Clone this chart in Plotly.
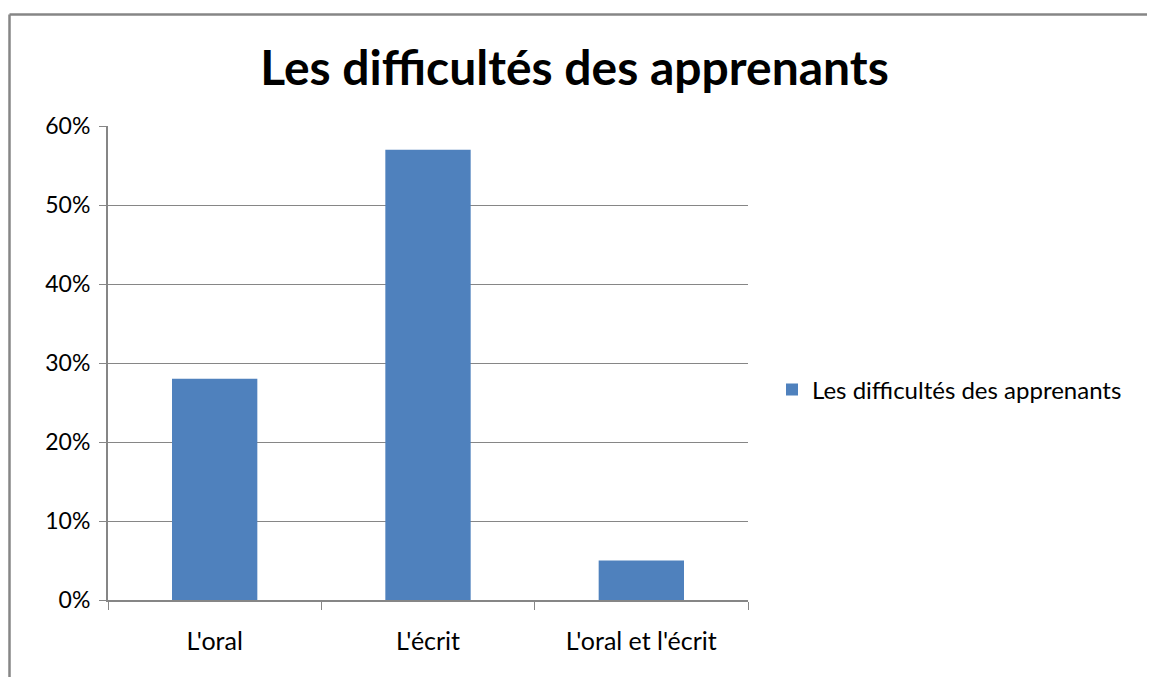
import plotly.graph_objects as go

categories = ["L'oral", "L'écrit", "L'oral et l'écrit"]
values = [0.28, 0.57, 0.05]
series_name = "Les difficultés des apprenants"
title_text = "Les difficultés des apprenants"
y_ticks = [0, 0.1, 0.2, 0.3, 0.4, 0.5, 0.6]
y_tick_labels = ["0%", "10%", "20%", "30%", "40%", "50%", "60%"]

W, H = 1149, 677
L, R, T, B = 108, 748, 126, 600

def px_x(p):
    return (p - L) / (R - L)

def px_y(p):
    return (B - p) / (B - T)

FONT = "Lato"
GRID = "#868686"

fig = go.Figure()
fig.add_trace(go.Bar(
    x=categories, y=values, name=series_name,
    marker=dict(color="#4F81BD", line=dict(width=0)),
    showlegend=True,
))

border = dict(color=GRID, width=2.5)
fig.update_layout(
    width=W, height=H,
    margin=dict(l=L, r=W - R, t=T, b=H - B, pad=0),
    paper_bgcolor="white", plot_bgcolor="white",
    bargap=0.6,
    font=dict(family=FONT, size=25, color="black"),
    title=dict(text="<b>" + title_text + "</b>", x=0.5, xref="container",
               xanchor="center", y=1 - 68 / H, yanchor="middle",
               font=dict(family=FONT, size=48, color="black")),
    showlegend=True,
    legend=dict(x=px_x(772), y=px_y(390), xanchor="left", yanchor="middle",
                font=dict(family=FONT, size=24, color="black"),
                bgcolor="rgba(0,0,0,0)", itemwidth=30, borderwidth=0),
    shapes=[
        dict(type="line", xref="paper", yref="paper",
             x0=px_x(9.5), x1=px_x(1147), y0=px_y(14.5), y1=px_y(14.5),
             line=border, layer="below"),
        dict(type="line", xref="paper", yref="paper",
             x0=px_x(9.5), x1=px_x(9.5), y0=px_y(14.5), y1=px_y(677),
             line=border, layer="below"),
    ],
)

fig.update_xaxes(
    showline=True, linecolor=GRID, linewidth=2,
    ticks="outside", tickson="boundaries", ticklen=8, tickcolor=GRID, tickwidth=1,
    showgrid=False, tickfont=dict(family=FONT, size=25, color="black"),
    ticklabelstandoff=18,
)
fig.update_yaxes(
    range=[0, 0.6], tickvals=y_ticks, ticktext=y_tick_labels,
    showline=True, linecolor=GRID, linewidth=2,
    ticks="outside", ticklen=7, tickcolor=GRID, tickwidth=1,
    showgrid=True, gridcolor=GRID, gridwidth=1,
    zeroline=False, tickfont=dict(family=FONT, size=23, color="black"),
    ticklabelstandoff=4,
)

fig.write_html("out.html", config={"displayModeBar": False},
               post_script="document.body.style.margin='0';document.body.style.overflow='hidden';")
